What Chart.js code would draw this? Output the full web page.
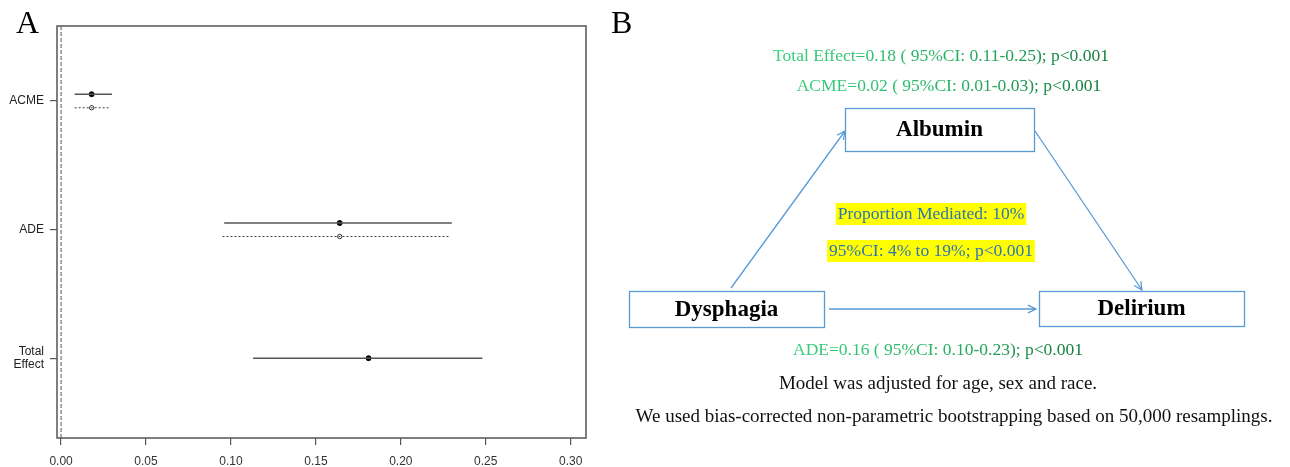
<!DOCTYPE html>
<html>
<head>
<meta charset="utf-8">
<script src="https://cdn.jsdelivr.net/npm/chart.js@4.4.1/dist/chart.umd.min.js"></script>
<style>
  html, body { margin: 0; background: #fff; }
  canvas { display: block; }
</style>
</head>
<body>
<canvas id="mediationChart" width="1290" height="467"></canvas>
<script>
// panel A: mediation estimates (treated = solid, control = dotted)
const effects = ['ACME', 'ADE', 'Total Effect'];
const effectRows = [3, 2, 1];
const treatedEst = [0.018, 0.164, 0.181];
const treatedLo = [0.008, 0.096, 0.113];
const treatedHi = [0.030, 0.230, 0.248];
const controlEst = [0.018, 0.164, null];
const controlLo = [0.008, 0.095, null];
const controlHi = [0.029, 0.229, null];
const xTicks = [0, 0.05, 0.10, 0.15, 0.20, 0.25, 0.30];

// panel B: path diagram texts
const nodeNames = ['Dysphagia', 'Albumin', 'Delirium'];
const topEffects = [
  'Total Effect=0.18 ( 95%CI: 0.11-0.25); p<0.001',
  'ACME=0.02 ( 95%CI: 0.01-0.03); p<0.001'
];
const directEffect = 'ADE=0.16 ( 95%CI: 0.10-0.23); p<0.001';
const proportionText = ['Proportion Mediated: 10%', '95%CI: 4% to 19%; p<0.001'];
const notes = [
  'Model was adjusted for age, sex and race.',
  'We used bias-corrected non-parametric bootstrapping based on 50,000 resamplings.'
];

const SERIF = '"Liberation Serif", "Times New Roman", serif';
const SANS = '"Liberation Sans", Arial, sans-serif';
const BLUE = '#5b9bd5';
const Y_MIN = 0.38;
const Y_MAX = 3.58;

function rowOffset(i, control) {
  if (controlEst[i] === null) return 0;
  return control ? -0.055 : 0.05;
}

const datasets = [];
datasets.push({
  type: 'line',
  data: [{ x: 0, y: Y_MIN }, { x: 0, y: Y_MAX }],
  borderColor: '#555',
  borderWidth: 1,
  borderDash: [4, 2],
  pointRadius: 0
});
effects.forEach((name, i) => {
  const yT = effectRows[i] + rowOffset(i, false);
  datasets.push({
    type: 'line',
    data: [{ x: treatedLo[i], y: yT }, { x: treatedHi[i], y: yT }],
    borderColor: '#555',
    borderWidth: 1.5,
    pointRadius: 0
  });
  datasets.push({
    type: 'scatter',
    data: [{ x: treatedEst[i], y: yT }],
    backgroundColor: '#000',
    borderColor: '#000',
    pointRadius: 2.5
  });
  if (controlEst[i] !== null) {
    const yC = effectRows[i] + rowOffset(i, true);
    datasets.push({
      type: 'line',
      data: [{ x: controlLo[i], y: yC }, { x: controlHi[i], y: yC }],
      borderColor: '#444',
      borderWidth: 1,
      borderDash: [2, 2],
      pointRadius: 0
    });
    datasets.push({
      type: 'scatter',
      data: [{ x: controlEst[i], y: yC }],
      backgroundColor: '#fff',
      borderColor: '#333',
      borderWidth: 1,
      pointRadius: 2.2
    });
  }
});

function drawArrow(ctx, x1, y1, x2, y2) {
  const ang = Math.atan2(y2 - y1, x2 - x1);
  const len = 9;
  ctx.beginPath();
  ctx.moveTo(x1, y1);
  ctx.lineTo(x2, y2);
  ctx.moveTo(x2 - len * Math.cos(ang - 0.45), y2 - len * Math.sin(ang - 0.45));
  ctx.lineTo(x2, y2);
  ctx.lineTo(x2 - len * Math.cos(ang + 0.45), y2 - len * Math.sin(ang + 0.45));
  ctx.stroke();
}

function greenText(ctx, text, cx, cy) {
  const w = ctx.measureText(text).width;
  const g = ctx.createLinearGradient(cx - w / 2, 0, cx + w / 2, 0);
  g.addColorStop(0, '#3ad17f');
  g.addColorStop(0.55, '#27b063');
  g.addColorStop(1, '#177a3e');
  ctx.fillStyle = g;
  ctx.fillText(text, cx, cy);
}

function drawPanelB(ctx) {
  ctx.save();
  ctx.textAlign = 'left';
  ctx.textBaseline = 'alphabetic';
  ctx.fillStyle = '#000';
  ctx.font = '32px ' + SERIF;
  ctx.fillText('B', 611, 33);

  ctx.textAlign = 'center';
  ctx.textBaseline = 'middle';
  ctx.font = '17.5px ' + SERIF;
  greenText(ctx, topEffects[0], 941, 56);
  greenText(ctx, topEffects[1], 949, 86);
  greenText(ctx, directEffect, 938, 350);

  // node boxes
  const boxes = [
    { x: 629, y: 291, w: 195, h: 36 },
    { x: 845, y: 108, w: 189, h: 43 },
    { x: 1039, y: 291, w: 205, h: 35 }
  ];
  ctx.strokeStyle = BLUE;
  ctx.lineWidth = 1.3;
  ctx.font = 'bold 23px ' + SERIF;
  ctx.fillStyle = '#000';
  nodeNames.forEach((n, i) => {
    const b = boxes[i];
    ctx.strokeRect(b.x + 0.5, b.y + 0.5, b.w, b.h);
    ctx.fillText(n, b.x + b.w / 2, b.y + b.h / 2 + 1);
  });

  // arrows
  drawArrow(ctx, 731, 288, 845, 131);
  drawArrow(ctx, 1035, 131, 1142, 290);
  drawArrow(ctx, 829, 309, 1036, 309);

  // highlighted proportion text
  ctx.font = '17.5px ' + SERIF;
  const ys = [214, 251];
  proportionText.forEach((t, i) => {
    const w = ctx.measureText(t).width;
    ctx.fillStyle = '#ffff00';
    ctx.fillRect(931 - w / 2 - 2, ys[i] - 11, w + 4, 22);
    ctx.fillStyle = '#2e75b6';
    ctx.fillText(t, 931, ys[i]);
  });

  // notes
  ctx.fillStyle = '#111';
  ctx.font = '19px ' + SERIF;
  ctx.fillText(notes[0], 938, 384);
  ctx.fillText(notes[1], 954, 417);
  ctx.restore();
}

const framePlugin = {
  id: 'frame',
  afterDraw(chart) {
    const { ctx, chartArea: a } = chart;
    ctx.save();
    ctx.strokeStyle = '#555';
    ctx.lineWidth = 1.5;
    ctx.strokeRect(a.left, a.top, a.right - a.left, a.bottom - a.top);
    ctx.fillStyle = '#000';
    ctx.font = '32px ' + SERIF;
    ctx.textBaseline = 'alphabetic';
    ctx.fillText('A', 16, 33);
    ctx.restore();
    drawPanelB(ctx);
  }
};

new Chart(document.getElementById('mediationChart').getContext('2d'), {
  type: 'scatter',
  data: { datasets },
  options: {
    responsive: false,
    animation: false,
    layout: { padding: { left: 0, right: 704, top: 26, bottom: 0 } },
    plugins: { legend: { display: false }, tooltip: { enabled: false } },
    scales: {
      x: {
        type: 'linear',
        min: -0.0024,
        max: 0.309,
        afterBuildTicks: s => { s.ticks = xTicks.map(v => ({ value: v })); },
        afterFit: s => { s.height = 29; },
        grid: { drawOnChartArea: false, tickLength: 7, color: '#555', lineWidth: 1.2 },
        border: { display: false },
        ticks: {
          padding: 9,
          color: '#333',
          font: { family: SANS, size: 12 },
          maxRotation: 0,
          callback: v => Number(v).toFixed(2)
        }
      },
      y: {
        type: 'linear',
        min: Y_MIN,
        max: Y_MAX,
        afterBuildTicks: s => { s.ticks = effectRows.map(v => ({ value: v })); },
        afterFit: s => { s.width = 57; },
        grid: { drawOnChartArea: false, tickLength: 7, color: '#555', lineWidth: 1.2 },
        border: { display: false },
        ticks: {
          padding: 6,
          color: '#222',
          font: { family: SANS, size: 12, lineHeight: 1.15 },
          callback: v => {
            const name = effects[effectRows.indexOf(v)];
            return name === 'Total Effect' ? ['Total', 'Effect'] : name;
          }
        }
      }
    }
  },
  plugins: [framePlugin]
});
</script>
</body>
</html>
